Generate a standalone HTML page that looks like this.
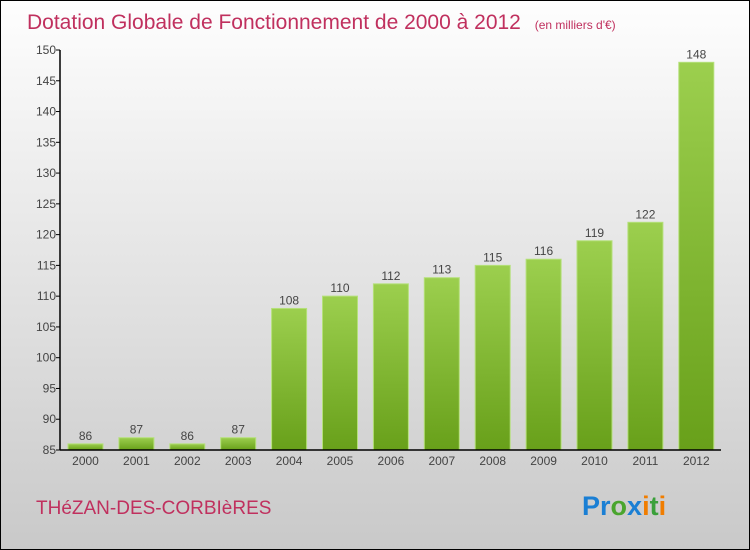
<!DOCTYPE html>
<html><head><meta charset="utf-8"><style>
body{margin:0;width:750px;height:550px;overflow:hidden}
svg{display:block;font-family:"Liberation Sans",sans-serif}
</style></head><body>
<svg width="750" height="550">
<defs>
<linearGradient id="bg" x1="0" y1="0" x2="0" y2="1"><stop offset="0" stop-color="#fefefe"/><stop offset="1" stop-color="#c9c9c9"/></linearGradient>
<linearGradient id="bar" x1="0" y1="0" x2="0" y2="1"><stop offset="0" stop-color="#9ccf4e"/><stop offset="1" stop-color="#68a01a"/></linearGradient>
</defs>
<rect x="0.5" y="0.5" width="749" height="549" fill="url(#bg)" stroke="#000"/>
<text x="27" y="29" font-size="21" fill="#c0305e">Dotation Globale de Fonctionnement de 2000 à 2012 <tspan font-size="12" dx="8">(en milliers d'€)</tspan></text>
<g id="plot"></g>
<text x="36" y="514" font-size="19" fill="#c0305e">THéZAN-DES-CORBIèRES</text>
<text x="582" y="515" font-size="27" font-weight="bold"><tspan fill="#1a7fd4">Pr</tspan><tspan fill="#4aa52e">o</tspan><tspan fill="#1a7fd4">x</tspan><tspan fill="#f07d00">i</tspan><tspan fill="#3aa03a">t</tspan><tspan fill="#f07d00">i</tspan></text>
</svg>
<script>
const years=["2000","2001","2002","2003","2004","2005","2006","2007","2008","2009","2010","2011","2012"];
const values=[86,87,86,87,108,110,112,113,115,116,119,122,148];
const yTicks=[85,90,95,100,105,110,115,120,125,130,135,140,145,150];
const NS="http://www.w3.org/2000/svg";
const g=document.getElementById('plot');
const yMin=85,yMax=150,pTop=50,pBot=450,pLeft=60,pRight=721;
const y=v=>pBot-(v-yMin)/(yMax-yMin)*(pBot-pTop);
const step=50.9,x0=85.5,bw=35;
const x=i=>x0+i*step;
function el(t,a){const e=document.createElementNS(NS,t);for(const k in a)e.setAttribute(k,a[k]);g.appendChild(e);return e;}
yTicks.forEach(t=>{
 const l=el('line',{x1:pLeft-4,x2:pLeft,y1:y(t),y2:y(t),stroke:'#000'});
 
 
 const tx=el('text',{x:pLeft-4,y:y(t)+4,'text-anchor':'end','font-size':12,fill:'#444'});
 tx.textContent=t;
 
 
});
values.forEach((v,i)=>{
 const r=el('rect',{x:x(i)-bw/2,y:y(v),width:bw,height:pBot-y(v),fill:'url(#bar)',stroke:'#b5e07a','stroke-width':1});
 
 
 const vl=el('text',{x:x(i),y:y(v)-4,'text-anchor':'middle','font-size':12,fill:'#444'});
 vl.textContent=v;
 
 
 const xl=el('text',{x:x(i),y:pBot+15,'text-anchor':'middle','font-size':12,fill:'#444'});
 xl.textContent=years[i];
 
 
});
const ya=el('line',{x1:pLeft,x2:pLeft,y1:pTop,y2:pBot,stroke:'#000','stroke-width':1.5});


const xa=el('line',{x1:pLeft,x2:pRight,y1:pBot,y2:pBot,stroke:'#000','stroke-width':1.5});


</script>
</body></html>
